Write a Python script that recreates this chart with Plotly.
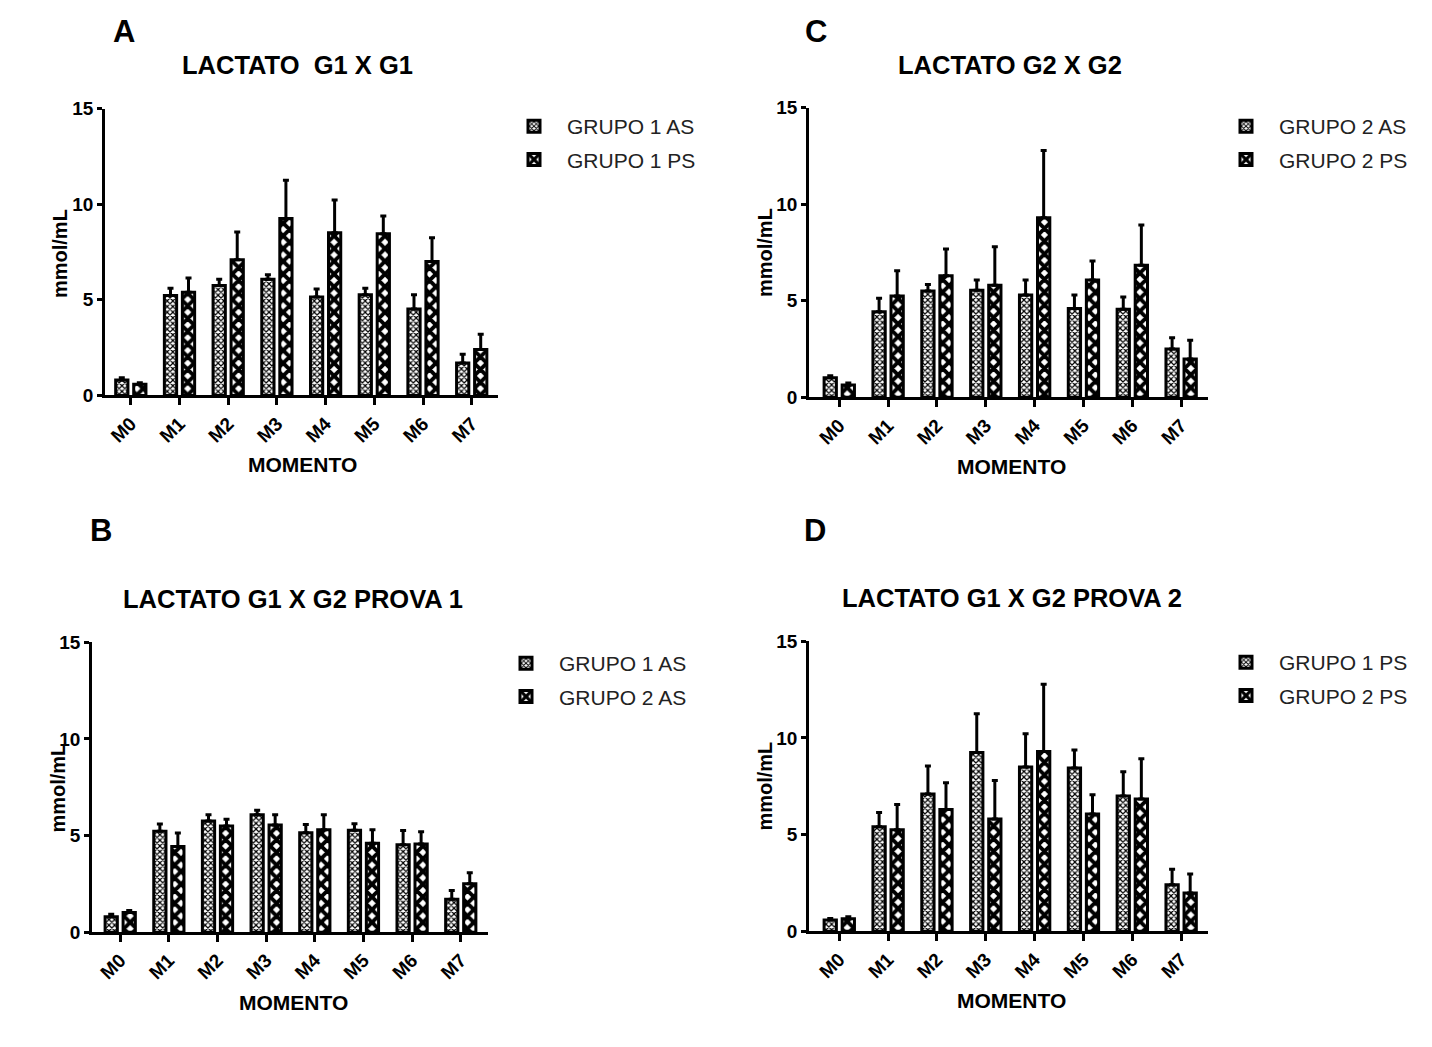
import plotly.graph_objects as go

W, H = 1432, 1047

moments = ["M0", "M1", "M2", "M3", "M4", "M5", "M6", "M7"]

g1_as = [0.80, 5.22, 5.75, 6.07, 5.15, 5.27, 4.52, 1.70]
g1_as_err = [0.12, 0.38, 0.33, 0.24, 0.42, 0.34, 0.74, 0.45]
g1_ps = [0.58, 5.40, 7.10, 9.25, 8.50, 8.45, 7.00, 2.40]
g1_ps_err = [0.08, 0.74, 1.45, 2.00, 1.72, 0.93, 1.25, 0.80]
g2_as = [1.02, 4.43, 5.50, 5.55, 5.30, 4.60, 4.56, 2.50]
g2_as_err = [0.10, 0.70, 0.34, 0.53, 0.78, 0.70, 0.63, 0.58]
g2_ps = [0.64, 5.25, 6.30, 5.80, 9.30, 6.07, 6.84, 1.98]
g2_ps_err = [0.10, 1.30, 1.38, 2.00, 3.48, 0.99, 2.08, 0.98]

FONT = "Liberation Sans, Arial, sans-serif"

fine = dict(shape="x", size=4, solidity=0.5, fgcolor="black", bgcolor="white", fillmode="replace")
bold = dict(shape="x", size=9, solidity=0.68, fgcolor="black", bgcolor="white", fillmode="replace")

panels = [
    dict(ax="", leg="legend", series=[("GRUPO 1 AS", g1_as, g1_as_err, fine), ("GRUPO 1 PS", g1_ps, g1_ps_err, bold)],
         xpx=(105, 498), ypx=(100.6, 393.3), xr=(-0.53, 7.54),
         title="LACTATO \u00a0G1 X G1", tpos=(297, 56), letter="A", lpos=(124, 21.5),
         ytpos=(60, 248), xtpos=(302, 463.5), legpos=(501, 98)),
    dict(ax="2", leg="legend2", series=[("GRUPO 2 AS", g2_as, g2_as_err, fine), ("GRUPO 2 PS", g2_ps, g2_ps_err, bold)],
         xpx=(809, 1208), ypx=(99.6, 395.3), xr=(-0.62, 7.55),
         title="LACTATO G2 X G2", tpos=(1010, 56), letter="C", lpos=(816, 21.5),
         ytpos=(765, 248), xtpos=(1012, 465.5), legpos=(1213, 98)),
    dict(ax="3", leg="legend3", series=[("GRUPO 1 AS", g1_as, g1_as_err, fine), ("GRUPO 2 AS", g2_as, g2_as_err, bold)],
         xpx=(92, 488), ypx=(645.3, 941.0), xr=(-0.58, 7.56),
         title="LACTATO G1 X G2 PROVA 1", tpos=(293, 601.5), letter="B", lpos=(101, 531.5),
         ytpos=(58, 794.5), xtpos=(293, 1013), legpos=(493, 646)),
    dict(ax="4", leg="legend4", series=[("GRUPO 1 PS", g1_ps, g1_ps_err, fine), ("GRUPO 2 PS", g2_ps, g2_ps_err, bold)],
         xpx=(809, 1208), ypx=(644.3, 940.0), xr=(-0.62, 7.55),
         title="LACTATO G1 X G2 PROVA 2", tpos=(1012, 600.5), letter="D", lpos=(815, 531.5),
         ytpos=(765, 792.5), xtpos=(1012, 1011), legpos=(1213, 645)),
]

fig = go.Figure()
annotations = []
layout = dict(
    width=W, height=H, margin=dict(l=0, r=0, t=0, b=0),
    paper_bgcolor="white", plot_bgcolor="white",
    barmode="group", bargap=0.26, bargroupgap=0.32,
    font=dict(family=FONT, color="black"),
)

for i, p in enumerate(panels):
    ax = p["ax"]
    for j, (name, vals, err, pat) in enumerate(p["series"]):
        fig.add_trace(go.Bar(
            x=moments, y=vals, name=name,
            xaxis="x" + ax, yaxis="y" + ax, legend=p["leg"],
            legendgroup=f"p{i}s{j}",
            marker=dict(color="white", line=dict(color="black", width=3), pattern=pat),
            error_y=dict(type="data", array=err, arrayminus=[0] * len(err), symmetric=False,
                         color="black", thickness=3, width=3),
        ))
    x0, x1 = p["xpx"]
    ytop, ybot = p["ypx"]
    layout["xaxis" + ax] = dict(
        domain=[x0 / W, x1 / W], anchor="y" + ax, range=list(p["xr"]),
        showline=True, linecolor="black", linewidth=2.5, showgrid=False, zeroline=False,
        ticks="outside", ticklen=7, tickwidth=2.5, tickcolor="black", tickangle=-45,
        tickfont=dict(family=FONT, size=19, color="black", weight="bold"),
    )
    layout["yaxis" + ax] = dict(
        domain=[1 - ybot / H, 1 - ytop / H], anchor="x" + ax, range=[0, 15],
        tickvals=[0, 5, 10, 15],
        showline=True, linecolor="black", linewidth=2.5, showgrid=False, zeroline=False,
        ticks="outside", ticklen=5, tickwidth=2.5, tickcolor="black",
        tickfont=dict(family=FONT, size=19, color="black", weight="bold"),
    )
    lx, ly = p["legpos"]
    layout[p["leg"]] = dict(
        x=lx / W, y=1 - ly / H, xanchor="left", yanchor="top",
        font=dict(family=FONT, size=21, color="#222"),
        itemwidth=56, tracegroupgap=3, bgcolor="rgba(0,0,0,0)",
        traceorder="grouped",
    )
    tx, ty = p["tpos"]
    annotations.append(dict(text=p["title"], x=tx / W, y=1 - ty / H, xref="paper", yref="paper",
                            showarrow=False, xanchor="center", yanchor="middle",
                            font=dict(family=FONT, size=25.5, color="black", weight="bold")))
    lx2, ly2 = p["lpos"]
    annotations.append(dict(text=p["letter"], x=lx2 / W, y=1 - ly2 / H, xref="paper", yref="paper",
                            showarrow=False, xanchor="center", yanchor="middle",
                            font=dict(family=FONT, size=31, color="black", weight="bold")))
    yx, yy = p["ytpos"]
    annotations.append(dict(text="mmol/mL", x=yx / W, y=1 - yy / H, xref="paper", yref="paper",
                            showarrow=False, xanchor="center", yanchor="middle", textangle=-90,
                            font=dict(family=FONT, size=20, color="black", weight="bold")))
    xx, xy = p["xtpos"]
    annotations.append(dict(text="MOMENTO", x=xx / W, y=1 - xy / H, xref="paper", yref="paper",
                            showarrow=False, xanchor="center", yanchor="middle",
                            font=dict(family=FONT, size=21, color="black", weight="bold")))

layout["annotations"] = annotations
fig.update_layout(**layout)
fig.write_html(
    "out.html",
    post_script="document.body.style.margin='0';document.body.style.overflow='hidden';",
)
